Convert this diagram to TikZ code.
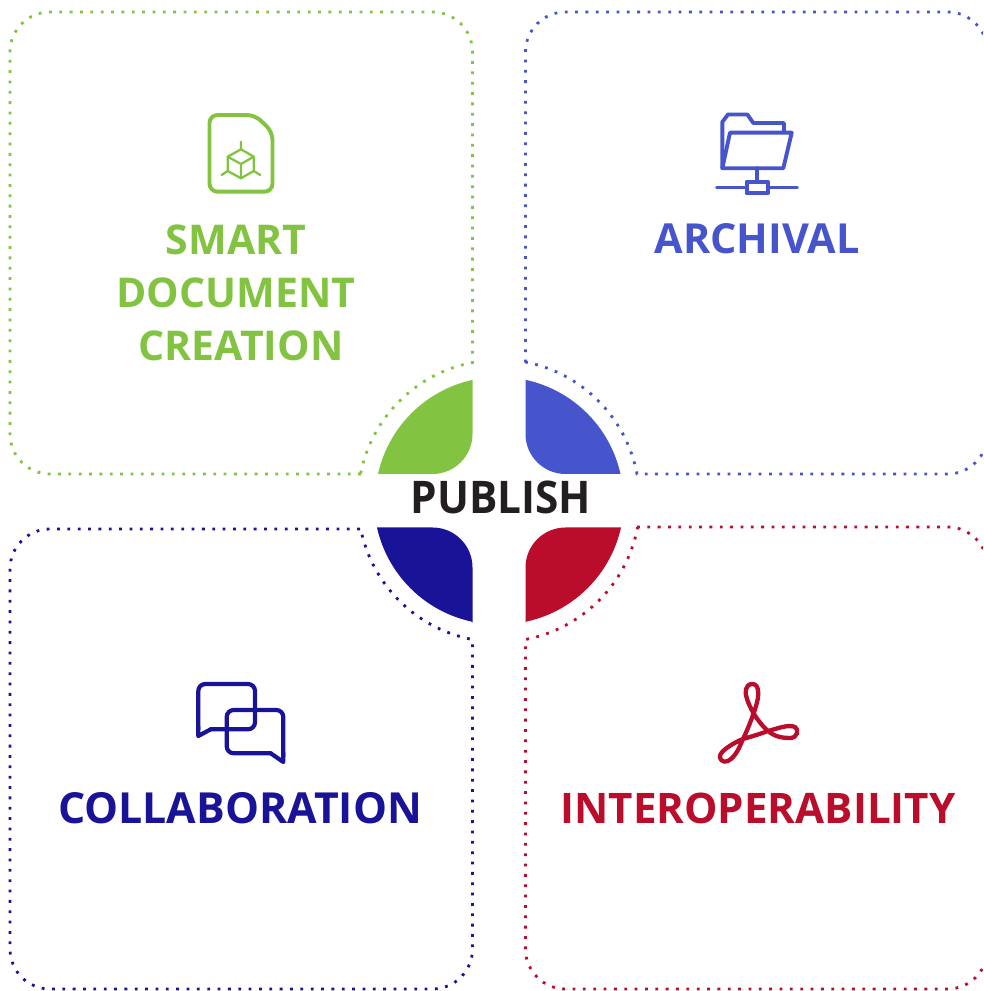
\documentclass[tikz,border=0pt]{standalone}
\usepackage{fontspec}
\setmainfont{Open Sans}
\newfontfamily\pubfont[FakeStretch=0.94]{Open Sans Bold}
\definecolor{cgreen}{HTML}{82C341}
\definecolor{cblue}{HTML}{4655CB}
\definecolor{cnavy}{HTML}{191497}
\definecolor{cred}{HTML}{BA0C2B}
\definecolor{cink}{HTML}{231F20}
\tikzset{
  dotline/.style={line width=2.8pt,dash pattern=on 2.8pt off 7.55pt},
  iconline/.style={line width=3.9pt,line join=round,line cap=round,fill=none},
  label/.style={anchor=base,inner sep=0pt},
  sized/.style={font=\fontsize{#1}{#1}\selectfont\bfseries},
}
\begin{document}
\begin{tikzpicture}[x=1pt,y=1pt]
\useasboundingbox (0,0) rectangle (983,991);
\clip (0,0) rectangle (983,991);
% dotted outlines
\draw[dotline,cgreen] (361,517) -- (50,517) arc[start angle=270,end angle=180,radius=40] -- (10,939) arc[start angle=180,end angle=90,radius=40] -- (432.5,979) arc[start angle=90,end angle=0,radius=40] -- (472.5,628.5) arc[start angle=100.8,end angle=169.2,radius=141];
\draw[dotline,cblue] (525.5,628.5) -- (525.5,939) arc[start angle=180,end angle=90,radius=40] -- (947.5,979) arc[start angle=90,end angle=0,radius=40] -- (987.5,557) arc[start angle=0,end angle=-90,radius=40] -- (637,517) arc[start angle=10.8,end angle=79.2,radius=141];
\draw[dotline,cnavy] (360,462) -- (50,462) arc[start angle=90,end angle=180,radius=40] -- (10,42) arc[start angle=180,end angle=270,radius=40] -- (432.5,2) arc[start angle=270,end angle=360,radius=40] -- (472.5,351.5) arc[start angle=259.2,end angle=190.8,radius=141];
\draw[dotline,cred] (637,464) -- (947.5,464) arc[start angle=90,end angle=0,radius=40] -- (987.5,42) arc[start angle=0,end angle=-90,radius=40] -- (565.5,2) arc[start angle=270,end angle=180,radius=40] -- (525.5,351.5) arc[start angle=280.8,end angle=349.2,radius=141];
% quadrant leaves
\fill[cgreen] (472.5,611) -- (472.5,557) arc[start angle=0,end angle=-90,radius=40] -- (378,517) arc[start angle=167.4,end angle=102.4,radius=124] -- cycle;
\fill[cblue] (525.5,611) -- (525.5,557) arc[start angle=180,end angle=270,radius=40] -- (620.5,517) arc[start angle=12.6,end angle=77.6,radius=124] -- cycle;
\fill[cnavy] (472.5,368.5) -- (472.5,423.5) arc[start angle=0,end angle=90,radius=40] -- (377,463.5) arc[start angle=192.6,end angle=257.6,radius=124] -- cycle;
\fill[cred] (525.5,368.5) -- (525.5,423.5) arc[start angle=180,end angle=90,radius=40] -- (621,463.5) arc[start angle=-12.6,end angle=-77.6,radius=124] -- cycle;
% labels
\node[label,sized=41,text=cgreen] (smart) at (236,736) {SMART};
\node[label,sized=41,text=cgreen] (document) at (236,683) {DOCUMENT};
\node[label,sized=41,text=cgreen] (creation) at (241,630) {CREATION};
\node[label,sized=41.4,text=cblue] (archival) at (757,737) {ARCHIVAL};
\node[label,sized=42.8,text=cnavy] (collaboration) at (240,167) {COLLABORATION};
\node[label,sized=42.1,text=cred] (interoperability) at (758,167) {INTEROPERABILITY};
\node[label,text=cink,font=\fontsize{45}{45}\selectfont\pubfont] (publish) at (501,477) {PUBLISH};
% document icon
\draw[iconline,cgreen,rounded corners=8pt] (209.5,876) -- (255,876) -- (272.5,859) -- (272.5,799.3) -- (209.5,799.3) -- cycle;
\begin{scope}[cgreen,line width=2.3pt,line join=round,line cap=round]
\draw (241,841.7) -- (253.7,834.3) -- (253.7,820) -- (241,812.7) -- (227.7,820) -- (227.7,834.3) -- cycle;
\draw (227.7,834.3) -- (241,827) -- (253.7,834.3) (241,827) -- (241,812.7);
\draw (241,841.7) -- (241,849.3) (253.7,820) -- (260.3,816) (227.7,820) -- (221.7,816);
\end{scope}
% folder icon
\begin{scope}[iconline,cblue]
\draw (722.3,823) -- (722.3,869) -- (728,876.5) -- (747.3,876.5) -- (753.3,868) -- (784,868) -- (784,859);
\draw (730,858.3) -- (791.7,858.3) -- (783.3,822.7) -- (722.3,822.7) -- cycle;
\draw (757,822.7) -- (757,809);
\draw (746.7,797.7) rectangle (767.7,809.3);
\draw (717.3,803.5) -- (746.7,803.5) (767.7,803.5) -- (796.7,803.5);
\end{scope}
% chat icon
\begin{scope}[iconline,cnavy,line width=4.2pt]
\draw[rounded corners=7pt] (198.3,262) -- (198.3,307) -- (255,307) -- (255,261.7) -- (210.7,261.7);
\draw (210.7,261.7) -- (198.3,255) -- (198.3,264);
\draw[rounded corners=7pt] (270.7,237.7) -- (226.7,237.7) -- (226.7,281) -- (283.3,281) -- (283.3,235);
\draw (270.7,237.7) -- (283.3,229) -- (283.3,238);
\end{scope}
% acrobat icon
\draw[cred,line width=4.3pt,line join=round] (752.3,307) .. controls (745,307) and (744.5,298) .. (747,292) .. controls (752,277) and (762,265) .. (768,260) .. controls (775,254) and (783,253) .. (790,253) .. controls (798,253) and (799,262) .. (795,264) .. controls (788,267) and (776,262) .. (768,260) .. controls (760,257) and (750,254) .. (743,252) .. controls (735,249) and (720,240) .. (720,235) .. controls (720,228) and (727,228) .. (731,232) .. controls (738,238) and (741,248) .. (743,252) .. controls (748,262) and (754,278) .. (756,285) .. controls (759,294) and (760,307) .. (752.3,307) -- cycle;
\end{tikzpicture}
\end{document}
